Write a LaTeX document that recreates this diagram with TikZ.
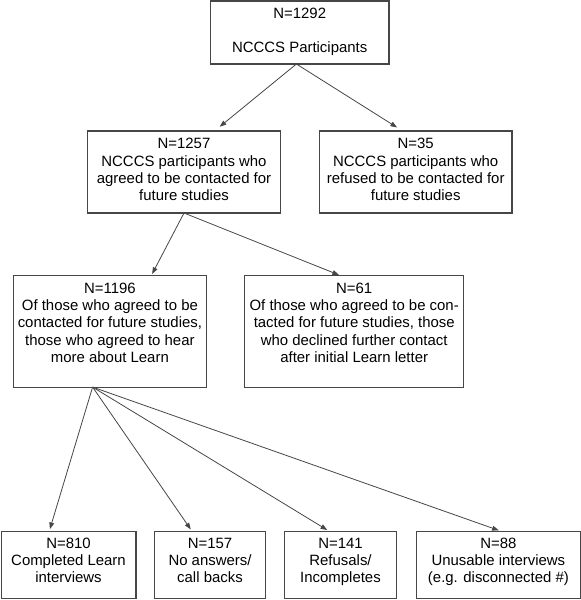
\documentclass[tikz,border=0pt]{standalone}
\usepackage{fontspec}
\setmainfont{Liberation Sans}
\usetikzlibrary{arrows.meta,calc}
\definecolor{linec}{RGB}{70,70,70}
\begin{document}
\begin{tikzpicture}[x=0.75pt,y=-0.75pt,
  box/.style={draw=linec,line width=0.8pt,rectangle,inner sep=0pt,outer sep=0pt},
  txt/.style={anchor=north,align=center,inner sep=0pt,text=black,font=\fontsize{11.2pt}{13pt}\selectfont},
  arr/.style={draw=linec,line width=0.6pt,-{Triangle[length=5pt,width=3.6pt]},shorten >=1.5pt}]
\useasboundingbox (0,0) rectangle (581,600);
% boxes
\node[box,minimum width=133.95pt,minimum height=47.25pt] (b0) at (299.7,32.5) {};
\node[box,minimum width=144.2pt,minimum height=61.5pt] (b1) at (184,172) {};
\node[box,minimum width=144.45pt,minimum height=61.5pt] (b2) at (415.7,172) {};
\node[box,minimum width=144.8pt,minimum height=83.5pt] (b3) at (109.9,331.4) {};
\node[box,minimum width=163.95pt,minimum height=83.5pt] (b4) at (354.2,331.4) {};
\node[box,minimum width=101.2pt,minimum height=50.6pt] (b5) at (68.5,564.8) {};
\node[box,minimum width=83.3pt,minimum height=50.6pt] (b6) at (210,564.8) {};
\node[box,minimum width=83.4pt,minimum height=50.6pt] (b7) at (340.5,564.8) {};
\node[box,minimum width=123pt,minimum height=50.6pt] (b8) at (498.2,564.8) {};
% texts
\node[txt] (t0) at (299.7,7.6) {N=1292\\[13pt]NCCCS Participants};
\node[txt] (t1) at (184,138.3) {N=1257\\NCCCS participants who\\agreed to be contacted for\\future studies};
\node[txt] (t2) at (415.7,138.3) {N=35\\NCCCS participants who\\refused to be contacted for\\future studies};
\node[txt] (t3) at (109.9,282.6) {N=1196\\Of those who agreed to be\\contacted for future studies,\\those who agreed to hear\\more about Learn};
\node[txt] (t4) at (354.2,282.6) {N=61\\Of those who agreed to be con-\\tacted for future studies, those\\who declined further contact\\after initial Learn letter};
\node[txt] (t5) at (68.5,537.6) {N=810\\Completed Learn\\interviews};
\node[txt] (t6) at (210,537.6) {N=157\\No answers/\\call backs};
\node[txt] (t7) at (340.5,537.6) {N=141\\Refusals/\\Incompletes};
\node[txt] (t8) at (498.4,537.6) {N=88\\Unusable interviews\\(e.g. disconnected \#)};
% connectors
\draw[arr,shorten >=5pt] ($(b0.south)+(-3.3,0)$) -- ($(b1.north)+(30.5,0)$);
\draw[arr,shorten >=5pt] ($(b0.south)+(-3.3,0)$) -- ($(b2.north)+(-13,0)$);
\draw[arr] (b1.south) -- ($(b3.north)+(41.3,0)$);
\draw[arr] (b1.south) -- ($(b4.north)+(-13.3,0)$);
\coordinate (f) at ($(b3.south)+(-17.3,0)$);
\draw[arr] (f) -- ($(b5.north)+(-19.2,0)$);
\draw[arr] (f) -- ($(b6.north)+(-18.1,0)$);
\draw[arr] (f) -- ($(b7.north)+(-11.5,0)$);
\draw[arr] (f) -- ($(b8.north)+(2.5,0)$);
\end{tikzpicture}
\end{document}
